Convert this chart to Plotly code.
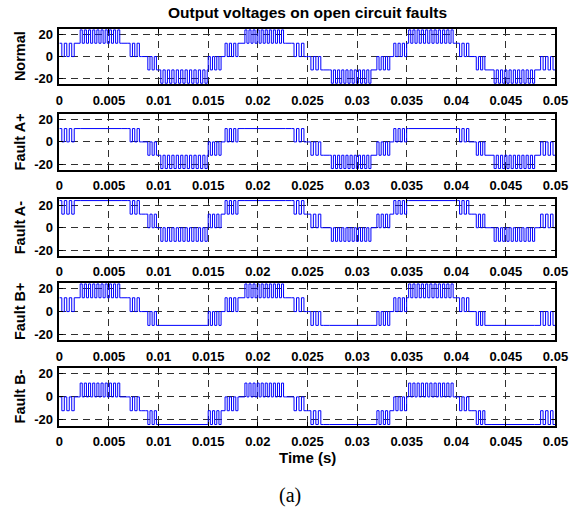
import plotly.graph_objects as go

# ---------------- data ----------------
# Common switching segments (time in s): start, end, number of PWM pulses
seg_start = [0.0000, 0.0015, 0.0021, 0.0063, 0.0069, 0.0083, 0.0087, 0.0100, 0.0149, 0.0150, 0.0163,
             0.0167, 0.0180, 0.0187, 0.0228, 0.0234, 0.0249, 0.0251, 0.0266, 0.0272, 0.0314, 0.0320,
             0.0333, 0.0337, 0.0350, 0.0352, 0.0399, 0.0401, 0.0415, 0.0418, 0.0431, 0.0436, 0.0479,
             0.0485]
seg_end = seg_start[1:] + [0.0500]
seg_pulses = [3, 0, 10, 0, 3, 0, 3, 11, 0, 3, 0,
              3, 0, 10, 0, 3, 0, 3, 0, 10, 0, 3,
              0, 3, 0, 11, 0, 3, 0, 3, 0, 10, 0,
              3]

# Voltage levels (V) in each segment: low / high of the PWM band
normal_lo = [0, 12, 12, 12, 0, 0, -12, -24, -12, -12, 0,
             0, 12, 12, 12, 0, 0, -12, -12, -24, -12, -12,
             0, 0, 12, 12, 12, 0, 0, -12, -12, -24, -12,
             -12]
normal_hi = [12, 12, 24, 12, 12, 0, 0, -12, -12, 0, 0,
             12, 12, 24, 12, 12, 0, 0, -12, -12, -12, 0,
             0, 12, 12, 24, 12, 12, 0, 0, -12, -12, -12,
             0]

faultAp_lo = [0, 12, 12, 12, 0, 0, -12, -24, -12, -12, 0,
              0, 12, 12, 12, 0, 0, -12, -12, -24, -12, -12,
              0, 0, 12, 12, 12, 0, 0, -12, -12, -24, -12,
              -12]
faultAp_hi = [12, 12, 12, 12, 12, 0, 0, -12, -12, 0, 0,
              12, 12, 12, 12, 12, 0, 0, -12, -12, -12, 0,
              0, 12, 12, 12, 12, 12, 0, 0, -12, -12, -12,
              0]

faultAm_lo = [12, 24, 24, 24, 12, 12, 0, -12, 0, 0, 12,
              12, 24, 24, 24, 12, 12, 0, 0, -12, 0, 0,
              12, 12, 24, 24, 24, 12, 12, 0, 0, -12, 0,
              0]
faultAm_hi = [24, 24, 24, 24, 24, 12, 12, 0, 0, 12, 12,
              24, 24, 24, 24, 24, 12, 12, 0, 0, 0, 12,
              12, 24, 24, 24, 24, 24, 12, 12, 0, 0, 0,
              12]

faultBp_lo = [0, 12, 12, 12, 0, 0, -12, -12, -12, -12, 0,
              0, 12, 12, 12, 0, 0, -12, -12, -12, -12, -12,
              0, 0, 12, 12, 12, 0, 0, -12, -12, -12, -12,
              -12]
faultBp_hi = [12, 12, 24, 12, 12, 0, 0, -12, -12, 0, 0,
              12, 12, 24, 12, 12, 0, 0, -12, -12, -12, 0,
              0, 12, 12, 24, 12, 12, 0, 0, -12, -12, -12,
              0]

faultBm_lo = [-12, 0, 0, 0, -12, -12, -24, -24, -24, -24, -12,
              -12, 0, 0, 0, -12, -12, -24, -24, -24, -24, -24,
              -12, -12, 0, 0, 0, -12, -12, -24, -24, -24, -24,
              -24]
faultBm_hi = [0, 0, 12, 0, 0, -12, -12, -24, -24, -12, -12,
              0, 0, 12, 0, 0, -12, -12, -24, -24, -24, -12,
              -12, 0, 0, 12, 0, 0, -12, -12, -24, -24, -24,
              -12]

panel_names = ["Normal", "Fault A+", "Fault A-", "Fault B+", "Fault B-"]
panel_lo = [normal_lo, faultAp_lo, faultAm_lo, faultBp_lo, faultBm_lo]
panel_hi = [normal_hi, faultAp_hi, faultAm_hi, faultBp_hi, faultBm_hi]

x_tickvals = [0, 0.005, 0.01, 0.015, 0.02, 0.025, 0.03, 0.035, 0.04, 0.045, 0.05]
x_ticktext = ["0", "0.005", "0.01", "0.015", "0.02", "0.025", "0.03", "0.035", "0.04", "0.045", "0.05"]
y_tickvals = [-20, 0, 20]
y_ticktext = ["-20", "0", "20"]

title_text = "Output voltages on open circuit faults"
xlabel_text = "Time (s)"
caption_text = "(a)"

# ---------------- figure ----------------
W, H = 585, 514
X0, X1 = 57, 568
panel_px = [(27, 83), (113, 169), (199, 256), (283, 341), (369, 427)]
DUTY = 0.5


def pwm_points(lo, hi):
    xs, ys = [], []
    for a, b, n, l, h in zip(seg_start, seg_end, seg_pulses, lo, hi):
        if n == 0 or l == h:
            xs.append(a)
            ys.append(h)
        else:
            p = (b - a) / n
            for k in range(n):
                xs += [a + k * p, a + (k + DUTY) * p]
                ys += [h, l]
    xs.append(seg_end[-1])
    ys.append(ys[-1])
    return xs, ys


fig = go.Figure()
FONT = "Liberation Sans, Arial, sans-serif"
annotations = []
layout = dict(
    width=W, height=H,
    margin=dict(l=0, r=0, t=0, b=0),
    paper_bgcolor="white", plot_bgcolor="white",
    showlegend=False,
    font=dict(family=FONT, color="black", size=13),
)

for i, (name, lo, hi) in enumerate(zip(panel_names, panel_lo, panel_hi)):
    xs, ys = pwm_points(lo, hi)
    suffix = "" if i == 0 else str(i + 1)
    fig.add_trace(go.Scatter(x=xs, y=ys, mode="lines", line_shape="hv",
                             line=dict(color="rgb(0,0,255)", width=1),
                             xaxis="x" + suffix, yaxis="y" + suffix, hoverinfo="skip"))
    top, bot = panel_px[i]
    axcommon = dict(showline=True, linecolor="black", linewidth=1.5, mirror="ticks",
                    ticks="inside", ticklen=4, tickcolor="black", tickwidth=1,
                    showgrid=True, gridcolor="#303030", gridwidth=1, griddash="7px,5px",
                    zeroline=False,
                    tickfont=dict(family=FONT, size=13, color="black", weight="bold"))
    layout["xaxis" + suffix] = dict(axcommon, domain=[X0 / W, X1 / W], range=[0, 0.05],
                                   tickmode="array", tickvals=x_tickvals, ticktext=x_ticktext,
                                   anchor="y" + suffix, ticklabelstandoff=3)
    layout["yaxis" + suffix] = dict(axcommon, domain=[1 - bot / H, 1 - top / H], range=[-25, 25],
                                   tickmode="array", tickvals=y_tickvals, ticktext=y_ticktext,
                                   anchor="x" + suffix, ticklabelstandoff=2)
    annotations.append(dict(text="<b>" + name + "</b>", x=16 / W, y=1 - (top + bot) / 2 / H,
                            xref="paper", yref="paper", textangle=-90, showarrow=False,
                            xanchor="center", yanchor="middle",
                            font=dict(family=FONT, size=14.5, color="black")))

annotations.append(dict(text="<b>" + title_text + "</b>", x=(X0 + X1) / 2 / W, y=1 - 11 / H,
                        xref="paper", yref="paper", showarrow=False, xanchor="center", yanchor="middle",
                        font=dict(family=FONT, size=15.5, color="black")))
annotations.append(dict(text="<b>" + xlabel_text + "</b>", x=(X0 + X1) / 2 / W, y=1 - 459 / H,
                        xref="paper", yref="paper", showarrow=False, xanchor="center", yanchor="middle",
                        font=dict(family=FONT, size=15, color="black")))
annotations.append(dict(text=caption_text, x=295 / W, y=1 - 497 / H,
                        xref="paper", yref="paper", showarrow=False, xanchor="center", yanchor="middle",
                        font=dict(family="Liberation Serif", size=20, color="black")))
layout["annotations"] = annotations
fig.update_layout(**layout)
fig.write_html("out.html")
